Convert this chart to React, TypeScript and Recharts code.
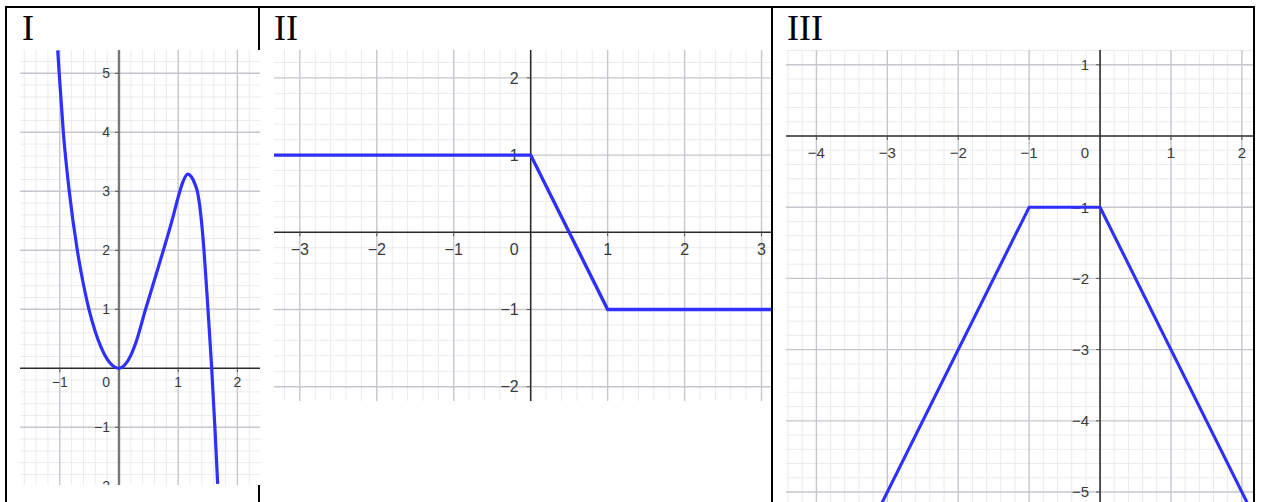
import React from "react";
import { LineChart, Line, XAxis, YAxis, ReferenceLine, ReferenceDot } from "recharts";

// Graph I — smooth curve
const curveX = [
  -1.035, -1.01, -0.94, -0.84, -0.704, -0.6, -0.507, -0.4, -0.3, -0.2, -0.1, 0,
  0.1, 0.2, 0.3, 0.44, 0.6, 0.75, 0.9, 1.0, 1.08, 1.16,
  1.22, 1.28, 1.33, 1.38, 1.436, 1.503, 1.566, 1.62, 1.667,
];
const curveY = [
  5.39, 5.0, 4.0, 3.0, 2.0, 1.42, 1.0, 0.62, 0.35, 0.155, 0.04, 0,
  0.06, 0.22, 0.48, 0.97, 1.5, 2.0, 2.52, 2.9, 3.16, 3.29,
  3.25, 3.13, 2.97, 2.62, 2.0, 1.0, 0, -1.0, -1.96,
];

// Graph II — piecewise linear
const stepX = [-3.4, 0, 1, 3.2];
const stepY = [1, 1, -1, -1];

// Graph III — trapezoid
const trapX = [-3.1, -1, 0, 2.1];
const trapY = [-5.2, -1, -1, -5.2];

// labelled ticks per graph
const ticksX1 = [-1, 1, 2];
const ticksY1 = [5, 4, 3, 2, 1, -1, -2];
const ticksX2 = [-3, -2, -1, 1, 2, 3];
const ticksY2 = [2, 1, -1, -2];
const ticksX3 = [-4, -3, -2, -1, 1, 2];
const ticksY3 = [1, -1, -2, -3, -4, -5];

const BLUE = "#2f2fff";
const MAJOR = "#c6c6ce";
const MINOR = "#ebebeb";
const LABEL = "#3a3a3a";

// layering: grid < axes < labels < curve
const Z_GRID = 100;
const Z_AXIS = 150;
const Z_LABEL = 450;
const Z_CURVE = 700;

const fmt = (v: number) => (v < 0 ? `\u2212${Math.abs(v)}` : `${v}`);

function gridValues(lo: number, hi: number) {
  const minor: number[] = [];
  const major: number[] = [];
  for (let i = Math.floor(lo * 5); i <= Math.ceil(hi * 5); i++) {
    if (i === 0) continue;
    if (i % 5 === 0) major.push(i / 5);
    else minor.push(i / 5);
  }
  return { minor, major };
}

interface PlotProps {
  width: number;
  height: number;
  xDomain: [number, number];
  yDomain: [number, number];
  xs: number[];
  ys: number[];
  ticksX: number[];
  ticksY: number[];
  curve: "linear" | "monotone";
  font: number;
  xLabelDy: number;
  yLabelGap: number;
  yAxisColor: string;
  yAxisWidth: number;
  lineWidth: number;
}

function Plot(p: PlotProps) {
  const data = p.xs.map((x, i) => ({ x, y: p.ys[i] }));
  const gx = gridValues(p.xDomain[0], p.xDomain[1]);
  const gy = gridValues(p.yDomain[0], p.yDomain[1]);
  const textStyle = { fontFamily: "Liberation Sans, Arial, sans-serif", fontSize: p.font, fill: LABEL };

  return (
    <LineChart width={p.width} height={p.height} data={data} margin={{ top: 0, right: 0, bottom: 0, left: 0 }}>
      <XAxis type="number" dataKey="x" domain={p.xDomain} allowDataOverflow hide />
      <YAxis type="number" dataKey="y" domain={p.yDomain} allowDataOverflow hide />

      {gx.minor.map((v) => (
        <ReferenceLine key={`mx${v}`} x={v} stroke={MINOR} strokeWidth={1} zIndex={Z_GRID} />
      ))}
      {gy.minor.map((v) => (
        <ReferenceLine key={`my${v}`} y={v} stroke={MINOR} strokeWidth={1} zIndex={Z_GRID} />
      ))}
      {gx.major.map((v) => (
        <ReferenceLine key={`Mx${v}`} x={v} stroke={MAJOR} strokeWidth={1.4} zIndex={Z_GRID + 1} />
      ))}
      {gy.major.map((v) => (
        <ReferenceLine key={`My${v}`} y={v} stroke={MAJOR} strokeWidth={1.4} zIndex={Z_GRID + 1} />
      ))}

      <ReferenceLine y={0} stroke="#2a2a2a" strokeWidth={1.6} zIndex={Z_AXIS} />
      <ReferenceLine x={0} stroke={p.yAxisColor} strokeWidth={p.yAxisWidth} zIndex={Z_AXIS} />

      {p.ticksX.map((v) => (
        <ReferenceDot
          key={`tx${v}`}
          x={v}
          y={0}
          r={0}
          ifOverflow="visible"
          zIndex={Z_LABEL}
          shape={(d: any) => (
            <g>
              <line x1={d.cx} y1={d.cy} x2={d.cx} y2={d.cy + 4} stroke="#555" strokeWidth={1} />
              <text x={d.cx} y={d.cy + p.xLabelDy} textAnchor="middle" style={textStyle}>
                {fmt(v)}
              </text>
            </g>
          )}
        />
      ))}
      {p.ticksY.map((v) => (
        <ReferenceDot
          key={`ty${v}`}
          x={0}
          y={v}
          r={0}
          ifOverflow="visible"
          zIndex={Z_LABEL}
          shape={(d: any) => (
            <g>
              <line x1={d.cx - 4} y1={d.cy} x2={d.cx} y2={d.cy} stroke="#555" strokeWidth={1} />
              <text x={d.cx - p.yLabelGap} y={d.cy} dy="0.36em" textAnchor="end" style={textStyle}>
                {fmt(v)}
              </text>
            </g>
          )}
        />
      ))}
      <ReferenceDot
        x={0}
        y={0}
        r={0}
        ifOverflow="visible"
        zIndex={Z_LABEL}
        shape={(d: any) => (
          <text x={d.cx - p.yLabelGap} y={d.cy + p.xLabelDy} textAnchor="end" style={textStyle}>
            0
          </text>
        )}
      />

      <Line
        type={p.curve}
        dataKey="y"
        stroke={BLUE}
        strokeWidth={p.lineWidth}
        dot={false}
        activeDot={false}
        zIndex={Z_CURVE}
        isAnimationActive={false}
      />
    </LineChart>
  );
}

const titleStyle: React.CSSProperties = {
  position: "absolute",
  top: 8,
  fontFamily: "Liberation Serif, Times New Roman, serif",
  fontSize: 36,
  lineHeight: "40px",
  color: "#000",
};

const rule = (left: number, top: number, width: number, height: number): React.CSSProperties => ({
  position: "absolute",
  left,
  top,
  width,
  height,
  background: "#000",
});

export default function App() {
  return (
    <div style={{ position: "absolute", left: 0, top: 0, width: 1261, height: 502, background: "#fff", overflow: "hidden" }}>
      {/* table frame */}
      <div style={rule(5, 6, 1250, 2)} />
      <div style={rule(5, 6, 2, 496)} />
      <div style={rule(258, 6, 2, 496)} />
      <div style={rule(771, 6, 2, 496)} />
      <div style={rule(1253, 6, 2, 496)} />

      <div style={{ ...titleStyle, left: 22 }}>I</div>
      <div style={{ ...titleStyle, left: 274 }}>II</div>
      <div style={{ ...titleStyle, left: 787 }}>III</div>

      <div style={{ position: "absolute", left: 20, top: 50, background: "#fff" }}>
        <Plot
          width={240}
          height={435}
          xDomain={[-1.672, 2.382]}
          yDomain={[-1.978, 5.395]}
          xs={curveX}
          ys={curveY}
          ticksX={ticksX1}
          ticksY={ticksY1}
          curve="monotone"
          font={14}
          xLabelDy={19}
          yLabelGap={9}
          yAxisColor="#777"
          yAxisWidth={2.4}
          lineWidth={3.2}
        />
      </div>

      <div style={{ position: "absolute", left: 274, top: 50, background: "#fff" }}>
        <Plot
          width={497}
          height={351}
          xDomain={[-3.336, 3.123]}
          yDomain={[-2.185, 2.361]}
          xs={stepX}
          ys={stepY}
          ticksX={ticksX2}
          ticksY={ticksY2}
          curve="linear"
          font={16}
          xLabelDy={23}
          yLabelGap={12}
          yAxisColor="#2a2a2a"
          yAxisWidth={1.6}
          lineWidth={3.4}
        />
      </div>

      <div style={{ position: "absolute", left: 786, top: 50, background: "#fff" }}>
        <Plot
          width={467}
          height={452}
          xDomain={[-4.429, 2.157]}
          yDomain={[-5.14, 1.208]}
          xs={trapX}
          ys={trapY}
          ticksX={ticksX3}
          ticksY={ticksY3}
          curve="linear"
          font={15}
          xLabelDy={22}
          yLabelGap={11}
          yAxisColor="#2a2a2a"
          yAxisWidth={1.6}
          lineWidth={3.1}
        />
      </div>
    </div>
  );
}
